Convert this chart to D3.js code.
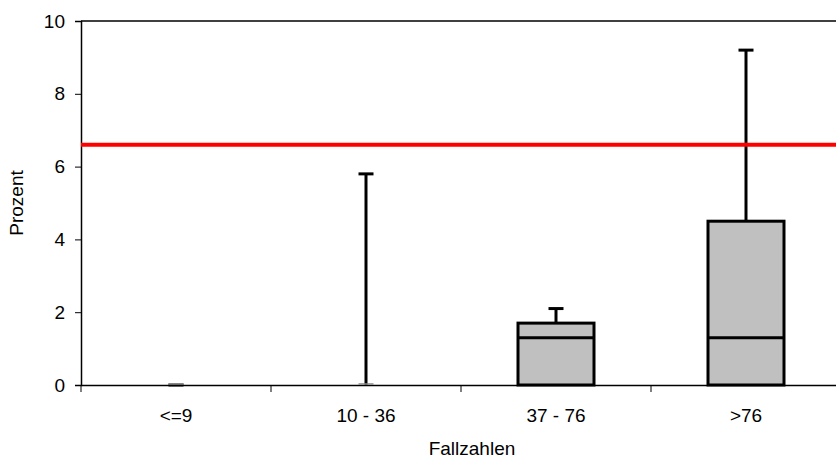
<!DOCTYPE html>
<html><head><meta charset="utf-8">
<script src="https://cdn.jsdelivr.net/npm/d3@7"></script>
<style>body{margin:0;background:#fff}svg{display:block}text{font-family:Arial,"Liberation Sans",sans-serif;fill:#000}</style>
</head><body><svg id="c" width="836" height="460"></svg>
<script>
const categories = ["<=9", "10 - 36", "37 - 76", ">76"];
const mins = [0, 0, 0, 0];
const q1s = [0, 0, 0, 0];
const medians = [0, 0, 1.3, 1.3];
const q3s = [0, 0, 1.7, 4.5];
const maxs = [0, 5.8, 2.1, 9.2];
const referenceValue = 6.6;
const yTicks = [0, 2, 4, 6, 8, 10];

(function () {
const svg = d3.select("#c");
const pL = 81, pR = 841, pT = 21, pB = 385;
const x = d3.scaleBand().domain(categories).range([pL, pR]);
const y = d3.scaleLinear().domain([0, 10]).range([pB, pT]);
const fs = 19;

// top border
svg.append("line").attr("x1", pL).attr("x2", pR).attr("y1", y(10)).attr("y2", y(10))
  .attr("stroke", "#000").attr("stroke-width", 1.5);

// y axis
const ya = svg.append("g").attr("transform", `translate(${pL},0)`)
  .call(d3.axisLeft(y).tickValues(yTicks).tickSize(6).tickPadding(10).tickFormat(d3.format("d")));
ya.select(".domain").attr("stroke-width", 1.5);
ya.selectAll("text").style("font-size", fs + "px").attr("font-family", "Arial, 'Liberation Sans', sans-serif");

// x axis
const xa = svg.append("g").attr("transform", `translate(0,${pB})`)
  .call(d3.axisBottom(x).tickSize(0).tickPadding(24));
xa.select(".domain").attr("stroke-width", 1.5);
xa.selectAll("text").style("font-size", fs + "px").attr("font-family", "Arial, 'Liberation Sans', sans-serif");
// boundary ticks
const bounds = categories.map(c => x(c));
svg.append("g").selectAll("line").data(bounds).join("line")
  .attr("x1", d => d).attr("x2", d => d).attr("y1", pB).attr("y2", pB + 7)
  .attr("stroke", "#000").attr("stroke-width", 1);

const bw = x.bandwidth() * 0.4;
const capW = 15;
const data = categories.map((c, i) => ({c, min: mins[i], q1: q1s[i], med: medians[i], q3: q3s[i], max: maxs[i]}));
const g = svg.append("g");
data.forEach(d => {
  const cx = x(d.c) + x.bandwidth() / 2;
  if (d.max > d.q3) {
    g.append("line").attr("x1", cx).attr("x2", cx).attr("y1", y(d.q3)).attr("y2", y(d.max))
      .attr("stroke", "#000").attr("stroke-width", 3);
  }
  g.append("line").attr("x1", cx - capW / 2).attr("x2", cx + capW / 2).attr("y1", y(d.max)).attr("y2", y(d.max))
    .attr("stroke", "#000").attr("stroke-width", 3);
  g.append("line").attr("x1", cx - capW / 2).attr("x2", cx + capW / 2).attr("y1", y(d.min) - 1).attr("y2", y(d.min) - 1)
    .attr("stroke", "#888").attr("stroke-width", 1.5);
  if (d.q3 > d.q1) {
    g.append("rect").attr("x", cx - bw / 2).attr("width", bw).attr("y", y(d.q3)).attr("height", y(d.q1) - y(d.q3))
      .attr("fill", "#c0c0c0").attr("stroke", "#000").attr("stroke-width", 3);
    g.append("line").attr("x1", cx - bw / 2).attr("x2", cx + bw / 2).attr("y1", y(d.med)).attr("y2", y(d.med))
      .attr("stroke", "#000").attr("stroke-width", 3);
  }
});

// reference line
svg.append("line").attr("x1", pL).attr("x2", pR).attr("y1", y(referenceValue)).attr("y2", y(referenceValue))
  .attr("stroke", "#ff0000").attr("stroke-width", 4);

// axis titles
svg.append("text").attr("x", 472).attr("y", 455).attr("text-anchor", "middle").style("font-size", fs + "px").text("Fallzahlen");
svg.append("text").attr("transform", `translate(23,${(pT + pB) / 2}) rotate(-90)`).attr("text-anchor", "middle")
  .style("font-size", fs + "px").text("Prozent");
})();
</script></body></html>
